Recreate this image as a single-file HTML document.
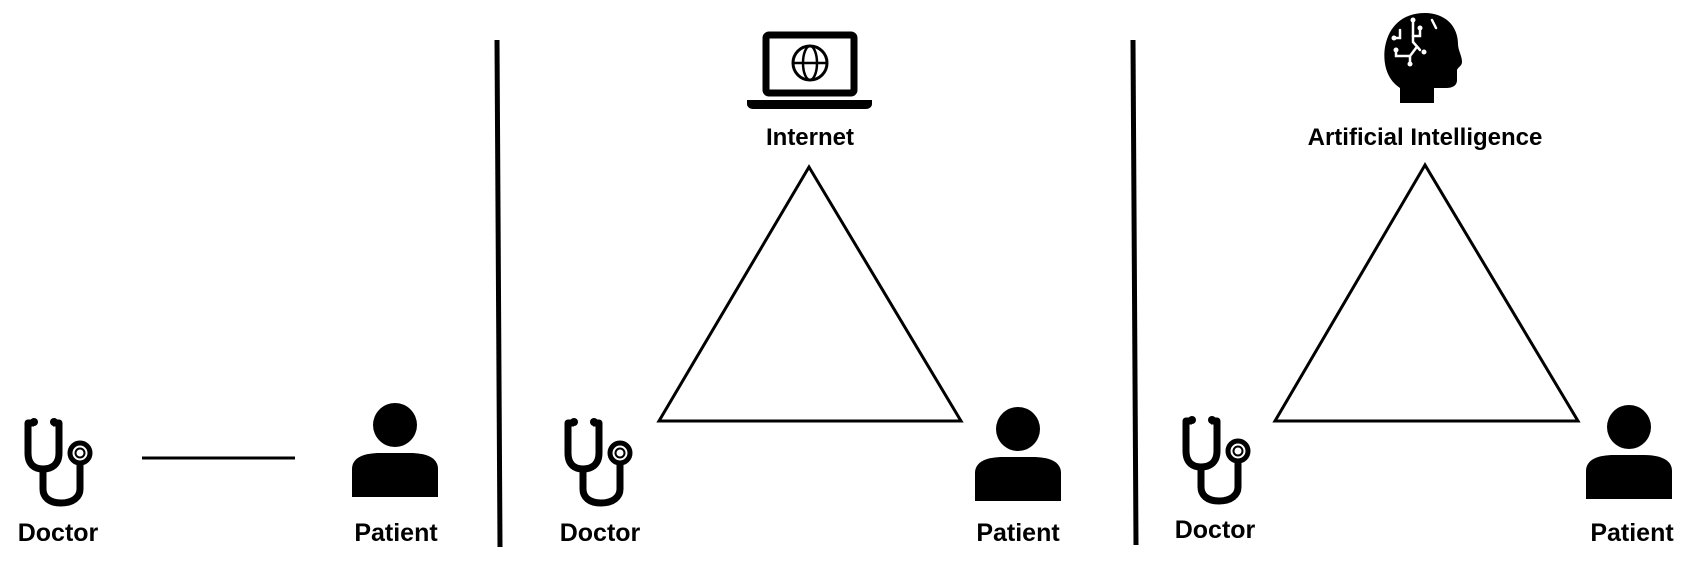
<!DOCTYPE html>
<html><head><style>
html,body{margin:0;padding:0;background:#fff;}
svg{display:block;}
text{font-family:"Liberation Sans",Arial,sans-serif;font-weight:bold;fill:#000;}
</style></head><body>
<svg width="1697" height="564" viewBox="0 0 1697 564" xmlns="http://www.w3.org/2000/svg">
<defs>
<g id="steth">
  <path d="M11,6 H5 V36 C5,48 12,52 20,52 C28,52 36,48 36,36 V6 H30" fill="none" stroke="#000" stroke-width="7" stroke-linejoin="round"/>
  <circle cx="11" cy="5" r="4" fill="#000"/>
  <circle cx="31" cy="5" r="4" fill="#000"/>
  <path d="M20,52 V72 C20,80 26,86 38,86 C50,86 57,80 57,72 V46" fill="none" stroke="#000" stroke-width="7"/>
  <circle cx="57" cy="36" r="10" fill="#fff" stroke="#000" stroke-width="5"/>
  <circle cx="57" cy="36" r="4.5" fill="none" stroke="#000" stroke-width="2"/>
</g>
<g id="person">
  <circle cx="0" cy="0" r="22" fill="#000"/>
  <path d="M-43,72 V44 C-43,32 -30,28 -15,28 H15 C30,28 43,32 43,44 V72 Z" fill="#000"/>
</g>
</defs>

<use href="#steth" x="23" y="417"/>
<line x1="142" y1="458" x2="295" y2="458" stroke="#000" stroke-width="3"/>
<use href="#person" x="395" y="425"/>
<text x="58" y="541" font-size="25" text-anchor="middle">Doctor</text>
<text x="396" y="541" font-size="25" text-anchor="middle">Patient</text>

<line x1="497" y1="40" x2="500" y2="547" stroke="#000" stroke-width="5"/>

<rect x="766" y="35" width="88" height="58" rx="3" fill="none" stroke="#000" stroke-width="7"/>
<path d="M747,100 H872 V104 C872,107 869,109 866,109 H753 C750,109 747,107 747,104 Z" fill="#000"/>
<circle cx="810" cy="63" r="17" fill="none" stroke="#000" stroke-width="3"/>
<ellipse cx="810" cy="63" rx="7" ry="17" fill="none" stroke="#000" stroke-width="2.5"/>
<line x1="793" y1="63" x2="827" y2="63" stroke="#000" stroke-width="2.5"/>
<text x="810" y="145" font-size="24" text-anchor="middle">Internet</text>
<polygon points="809,167 659,421 961,421" fill="none" stroke="#000" stroke-width="3"/>
<use href="#steth" x="563" y="417"/>
<use href="#person" x="1018" y="429"/>
<text x="600" y="541" font-size="25" text-anchor="middle">Doctor</text>
<text x="1018" y="541" font-size="25" text-anchor="middle">Patient</text>

<line x1="1133" y1="40" x2="1136" y2="545" stroke="#000" stroke-width="5"/>

<path d="M1400,103 V88 C1385,78 1383,60 1385,47 C1389,24 1405,13 1425,13 C1445,13 1458,26 1458,44 C1458,50 1462,56 1462,62 C1462,66 1458,67 1457,70 V80 C1457,86 1452,88 1446,88 H1434 V103 Z" fill="#000"/>
<g stroke="#fff" stroke-width="2.5" fill="none" stroke-linecap="round">
  <path d="M1413,20 V42 L1420,50"/>
  <path d="M1400,30 V38 H1394"/>
  <path d="M1413,36 H1420 V28"/>
  <path d="M1396,50 V56 H1410 L1416,48"/>
  <path d="M1410,56 V64"/>
  <path d="M1432,20 L1436,28"/>
</g>
<g fill="#fff"><circle cx="1413" cy="20" r="2.5"/><circle cx="1394" cy="38" r="2.5"/><circle cx="1420" cy="28" r="2.5"/><circle cx="1396" cy="50" r="2.5"/><circle cx="1410" cy="64" r="2.5"/><circle cx="1424" cy="52" r="2.5"/></g>
<text x="1425" y="145" font-size="24" text-anchor="middle">Artificial Intelligence</text>
<polygon points="1425,165 1275,421 1578,421" fill="none" stroke="#000" stroke-width="3"/>
<use href="#steth" x="1181" y="415"/>
<use href="#person" x="1629" y="427"/>
<text x="1215" y="538" font-size="25" text-anchor="middle">Doctor</text>
<text x="1632" y="541" font-size="25" text-anchor="middle">Patient</text>
</svg>
</body></html>
